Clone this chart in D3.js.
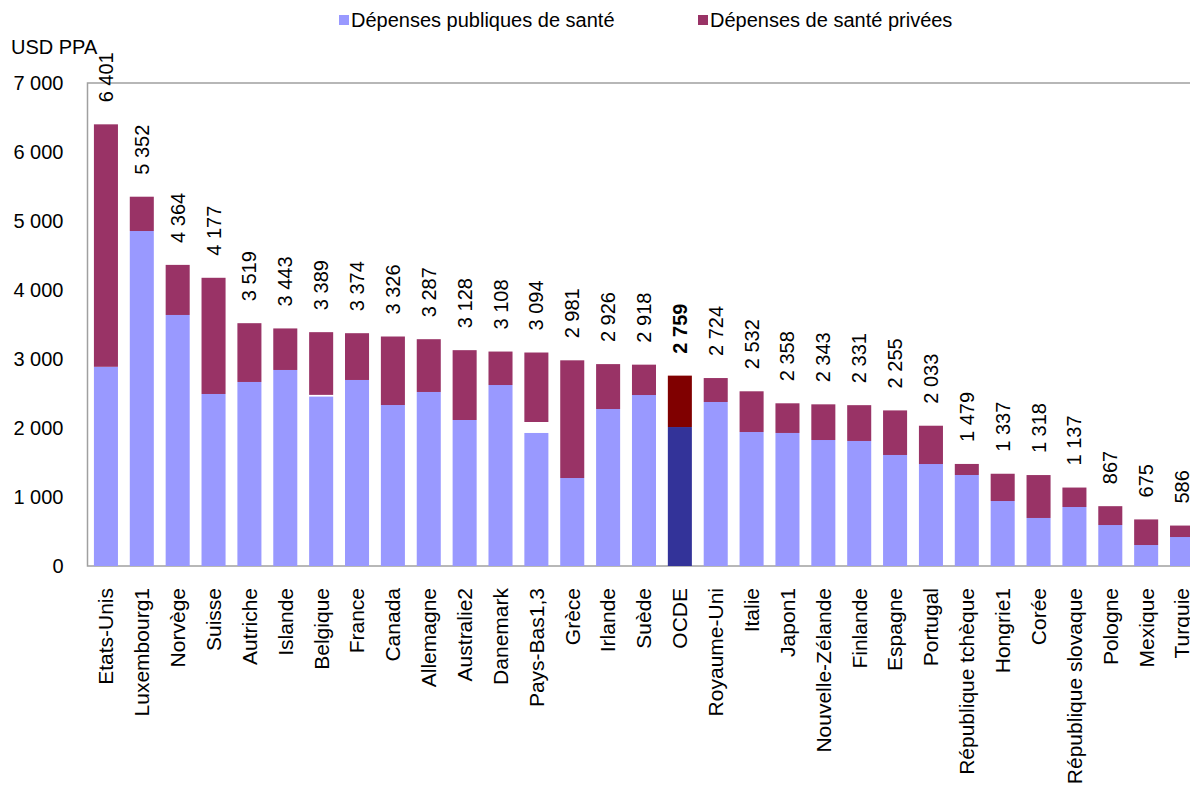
<!DOCTYPE html>
<html>
<head>
<meta charset="utf-8">
<script src="https://cdn.jsdelivr.net/npm/d3@7"></script>
<style>
body { margin: 0; background: #fff; }
text { font-family: "Liberation Sans", Arial, sans-serif; fill: #000; }
</style>
</head>
<body>
<svg id="chart" width="1190" height="785"></svg>
<script>
var width = 1190, height = 785;

var pays = ["Etats-Unis", "Luxembourg1", "Norvège", "Suisse", "Autriche", "Islande", "Belgique", "France",
    "Canada", "Allemagne", "Australie2", "Danemark", "Pays-Bas1,3", "Grèce", "Irlande", "Suède", "OCDE",
    "Royaume-Uni", "Italie", "Japon1", "Nouvelle-Zélande", "Finlande", "Espagne", "Portugal",
    "République tchèque", "Hongrie1", "Corée", "République slovaque", "Pologne", "Mexique", "Turquie"];

var totaux = [6401, 5352, 4364, 4177, 3519, 3443, 3389, 3374, 3326, 3287, 3128, 3108, 3094, 2981, 2926,
    2918, 2759, 2724, 2532, 2358, 2343, 2331, 2255, 2033, 1479, 1337, 1318, 1137, 867, 675, 586];

// part publique
var publiques = [2887, 4855, 3638, 2493, 2667, 2841, 2455, 2696, 2333, 2522, 2116, 2623, 1928, 1275, 2275,
    2478, 2014, 2377, 1942, 1928, 1826, 1812, 1609, 1478, 1319, 942, 696, 855, 594, 304, 420];

// part non répartie (blanc entre les deux segments)
var nonReparti = [0, 0, 0, 0, 0, 0, 25, 0, 0, 0, 0, 0, 159, 0, 0, 0, 0, 0, 0, 0, 0, 0, 0, 0, 0, 0, 0, 0, 0, 0, 0];

var yTicks = [0, 1000, 2000, 3000, 4000, 5000, 6000, 7000];

var data = pays.map(function(p, i) {
    return {
        pays: p,
        total: totaux[i],
        publique: publiques[i],
        gap: nonReparti[i],
        privee: totaux[i] - publiques[i] - nonReparti[i]
    };
});

var svg = d3.select("#chart");
var plotLeft = 87.5, plotTop = 83, plotBottom = 566;

var x = d3.scaleBand()
    .domain(pays)
    .range([88, 88 + 31 * 35.87])
    .paddingInner(0.33)
    .paddingOuter(0.165);

var y = d3.scaleLinear().domain([0, 7000]).range([plotBottom, plotTop]);

// cadre
svg.append("rect")
    .attr("x", plotLeft).attr("y", plotTop)
    .attr("width", 1300).attr("height", plotBottom - plotTop)
    .attr("fill", "none").attr("stroke", "#a0a0a0").attr("stroke-width", 1.5);

var stack = d3.stack().keys(["publique", "gap", "privee"]);
var series = stack(data);

var couleurs = {
    publique: function(d) { return d.data.pays == "OCDE" ? "#333399" : "#9999FF"; },
    gap: function(d) { return "none"; },
    privee: function(d) { return d.data.pays == "OCDE" ? "#800000" : "#993366"; }
};

series.forEach(function(s) {
    svg.append("g").selectAll("rect")
        .data(s)
        .join("rect")
        .attr("x", function(d) { return x(d.data.pays); })
        .attr("width", x.bandwidth())
        .attr("y", function(d) { return y(d[1]); })
        .attr("height", function(d) { return y(d[0]) - y(d[1]); })
        .attr("fill", couleurs[s.key]);
});

// axe y
var yAxis = d3.axisLeft(y).tickValues(yTicks).tickSize(0).tickPadding(24)
    .tickFormat(function(d) { return d3.format(",")(d).replace(",", " "); });
var gy = svg.append("g").attr("transform", "translate(" + plotLeft + ",0)").call(yAxis);
gy.select(".domain").remove();
gy.selectAll("text").style("font-size", "20px").style("font-family", "Liberation Sans, Arial, sans-serif");

svg.append("text").attr("x", 11).attr("y", 54).style("font-size", "20px").text("USD PPA");

// étiquettes des pays
svg.append("g").selectAll("text")
    .data(data)
    .join("text")
    .attr("transform", function(d) {
        return "translate(" + (x(d.pays) + x.bandwidth() / 2) + ",588) rotate(-90)";
    })
    .attr("text-anchor", "end")
    .attr("dy", "0.35em")
    .style("font-size", "21px")
    .text(function(d) { return d.pays; });

// valeurs totales
svg.append("g").selectAll("text")
    .data(data)
    .join("text")
    .attr("transform", function(d) {
        return "translate(" + (x(d.pays) + x.bandwidth() / 2) + "," + (y(d.total) - 22) + ") rotate(-90)";
    })
    .attr("text-anchor", "start")
    .attr("dy", "0.35em")
    .style("font-size", "20px")
    .style("font-weight", function(d) { return d.pays == "OCDE" ? "bold" : "normal"; })
    .text(function(d) { return d3.format(",")(d.total).replace(",", " "); });

// légende
var legende = [
    { nom: "Dépenses publiques de santé", couleur: "#9999FF", x: 339 },
    { nom: "Dépenses de santé privées", couleur: "#993366", x: 698 }
];
var lg = svg.append("g").selectAll("g").data(legende).join("g");
lg.append("rect")
    .attr("x", function(d) { return d.x; }).attr("y", 15)
    .attr("width", 10).attr("height", 10)
    .attr("fill", function(d) { return d.couleur; });
lg.append("text")
    .attr("x", function(d) { return d.x + 12; }).attr("y", 27)
    .style("font-size", "20px")
    .text(function(d) { return d.nom; });
</script>
</body>
</html>
